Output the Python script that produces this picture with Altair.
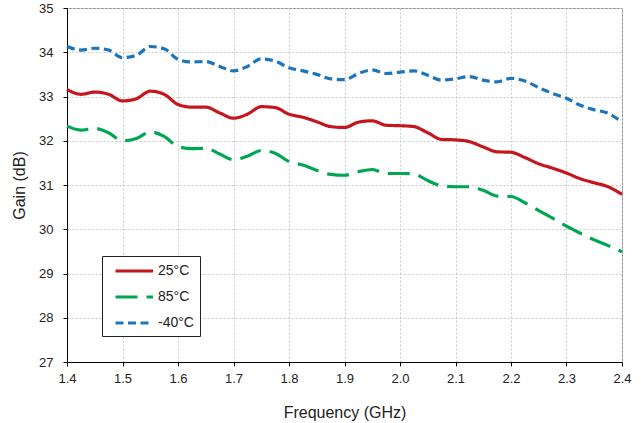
import altair as alt
import pandas as pd

freq = [1.400, 1.425, 1.450, 1.475, 1.500, 1.525, 1.550, 1.575, 1.600, 1.625,
        1.650, 1.675, 1.700, 1.725, 1.750, 1.775, 1.800, 1.825, 1.850, 1.875,
        1.900, 1.925, 1.950, 1.975, 2.000, 2.025, 2.050, 2.075, 2.100, 2.125,
        2.150, 2.175, 2.200, 2.225, 2.250, 2.275, 2.300, 2.325, 2.350, 2.375, 2.400]

gain_25 = [33.16, 33.05, 33.10, 33.05, 32.90, 32.95, 33.12, 33.05, 32.82, 32.76,
           32.76, 32.63, 32.51, 32.60, 32.77, 32.75, 32.60, 32.53, 32.43, 32.32,
           32.30, 32.42, 32.45, 32.35, 32.34, 32.32, 32.18, 32.03, 32.02, 31.98,
           31.86, 31.75, 31.74, 31.62, 31.48, 31.38, 31.27, 31.14, 31.05, 30.96, 30.79]

gain_85 = [32.33, 32.24, 32.28, 32.18, 32.00, 32.05, 32.20, 32.10, 31.87, 31.82,
           31.83, 31.70, 31.57, 31.65, 31.78, 31.72, 31.53, 31.45, 31.33, 31.24,
           31.22, 31.30, 31.35, 31.26, 31.26, 31.25, 31.10, 30.98, 30.96, 30.96,
           30.88, 30.75, 30.74, 30.60, 30.42, 30.25, 30.07, 29.91, 29.76, 29.63, 29.49]

gain_m40 = [34.13, 34.05, 34.09, 34.05, 33.88, 33.93, 34.13, 34.08, 33.84, 33.78,
            33.79, 33.68, 33.58, 33.68, 33.85, 33.80, 33.65, 33.58, 33.50, 33.40,
            33.38, 33.52, 33.60, 33.52, 33.55, 33.58, 33.48, 33.37, 33.40, 33.45,
            33.37, 33.33, 33.41, 33.35, 33.20, 33.07, 32.96, 32.80, 32.70, 32.62, 32.42]

series = ["25°C", "85°C", "-40°C"]
colors = ["#C4161C", "#00A651", "#1B75BC"]
dashes = [[1, 0], [22, 9], [8, 4.5]]

x_ticks = [1.4, 1.5, 1.6, 1.7, 1.8, 1.9, 2.0, 2.1, 2.2, 2.3, 2.4]
y_ticks = [27, 28, 29, 30, 31, 32, 33, 34, 35]

rows = []
for name, vals in zip(series, [gain_25, gain_85, gain_m40]):
    for f, g in zip(freq, vals):
        rows.append({"Frequency": f, "Gain": g, "Temp": name})
df = pd.DataFrame(rows)

chart = alt.Chart(df).mark_line(strokeWidth=3.2, interpolate="monotone").encode(
    x=alt.X("Frequency:Q",
            scale=alt.Scale(domain=[1.4, 2.4], nice=False, zero=False),
            axis=alt.Axis(values=x_ticks, format=".1f", title="Frequency (GHz)",
                          labelFlush=False)),
    y=alt.Y("Gain:Q",
            scale=alt.Scale(domain=[27, 35], nice=False, zero=False),
            axis=alt.Axis(values=y_ticks, format="d", title="Gain (dB)",
                          labelFlush=False)),
    color=alt.Color("Temp:N",
                    scale=alt.Scale(domain=series, range=colors),
                    sort=series,
                    legend=alt.Legend(title=None, orient="none", legendX=35, legendY=248,
                                      symbolType="M-0.2,0H4.8", symbolSize=225,
                                      symbolStrokeWidth=3, labelFontSize=14,
                                      labelFont="Liberation Sans", labelColor="#222",
                                      labelExpr="datum.label + '   '",
                                      rowPadding=10, padding=6, strokeColor="#222",
                                      fillColor="white", labelOffset=32)),
    strokeDash=alt.StrokeDash("Temp:N",
                              scale=alt.Scale(domain=series, range=dashes),
                              sort=series, legend=None),
    order=alt.Order("Frequency:Q"),
).properties(
    width=555, height=354,
    autosize=alt.AutoSizeParams(type="none"),
    padding={"left": 67, "top": 8, "right": 19, "bottom": 61},
).configure_view(
    stroke="#888888", strokeWidth=1
).configure_axis(
    labelFont="Liberation Sans", titleFont="Liberation Sans",
    labelFontSize=13, titleFontSize=16, labelColor="#222", titleColor="#222",
    titleFontWeight="normal",
    domainColor="#000", domainWidth=1, tickColor="#000", tickSize=4,
    gridColor="#c8c8c8", gridDash=[2, 2], gridWidth=1,
).configure_axisX(
    labelPadding=6, titlePadding=19
).configure_axisY(
    labelPadding=10, titlePadding=11
)

chart.save("out.html", embed_options={"renderer": "svg", "actions": False})
